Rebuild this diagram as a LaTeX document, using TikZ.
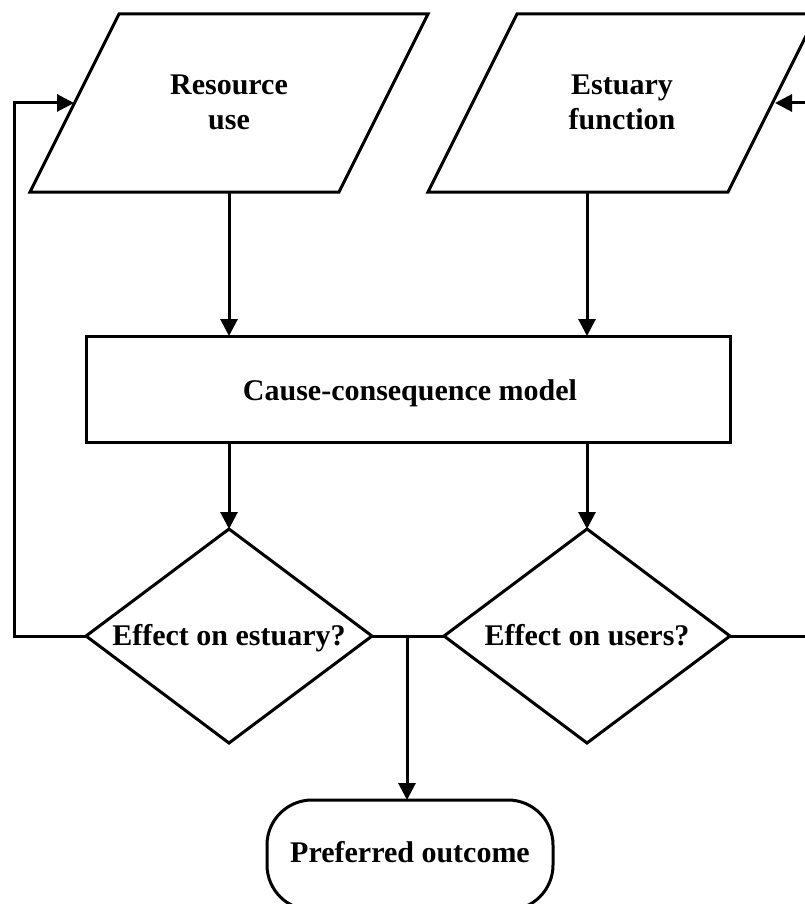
\documentclass[tikz,border=0pt]{standalone}
\usepackage{fontspec}
\setmainfont{Liberation Serif}
\usetikzlibrary{shapes.geometric,arrows.meta}
\begin{document}
\begin{tikzpicture}[x=1pt,y=-1pt,
  line width=3pt, line join=miter,
  lbl/.style={font=\bfseries\fontsize{30}{35}\selectfont, align=center, inner sep=0pt},
  procbox/.style={draw, rectangle, minimum width=644pt, minimum height=106pt, inner sep=0pt, outer sep=0pt},
  decision/.style={draw, diamond, minimum width=286pt, minimum height=214pt, inner sep=0pt, outer sep=0pt},
  terminal/.style={draw, rectangle, rounded corners=45pt, minimum width=286pt, minimum height=110pt, inner sep=0pt, outer sep=0pt},
  flow/.style={-{Triangle[length=17pt,width=17pt]}}]
\useasboundingbox (0,0) rectangle (805,904);
\clip (0,0) rectangle (805,904);

% input parallelograms
\draw (30,192) -- (339,192) -- (428,14) -- (119,14) -- cycle;
\draw (428,192) -- (728,192) -- (817,14) -- (517,14) -- cycle;
\node[lbl] (use) at (229,102.5) {Resource\\use};
\node[lbl] (func) at (622,102) {Estuary\\function};
\coordinate (useout) at (229,192);
\coordinate (funcout) at (587,192);
\coordinate (usein) at (74,103);
\coordinate (funcin) at (775,103);

% model
\node[procbox] (model) at (408,389) {};
\node[lbl, anchor=base] at (410,400) {Cause-consequence model};

% decisions
\node[decision] (dest) at (229,636) {};
\node[lbl, anchor=base] at (229,645) {Effect on estuary?};
\node[decision] (dusr) at (587,636) {};
\node[lbl, anchor=base] at (587,645) {Effect on users?};

% outcome
\node[terminal] (out) at (410,855) {};
\node[lbl, anchor=base] at (410,862) {Preferred outcome};

\coordinate (join) at (407,636);
\coordinate (lloop) at (14,636);
\coordinate (rloop) at (812,636);

% connectors
\draw[flow] (useout) -- (useout |- model.north);
\draw[flow] (funcout) -- (funcout |- model.north);
\draw[flow] (model.south -| dest.north) -- (dest.north);
\draw[flow] (model.south -| dusr.north) -- (dusr.north);
\draw (dest.east) -- (dusr.west);
\draw[flow] (join) -- (join |- out.north);
\draw[flow] (dest.west) -- (lloop) -- (lloop |- usein) -- (usein);
\draw[flow] (dusr.east) -- (rloop) -- (rloop |- funcin) -- (funcin);
\end{tikzpicture}
\end{document}
